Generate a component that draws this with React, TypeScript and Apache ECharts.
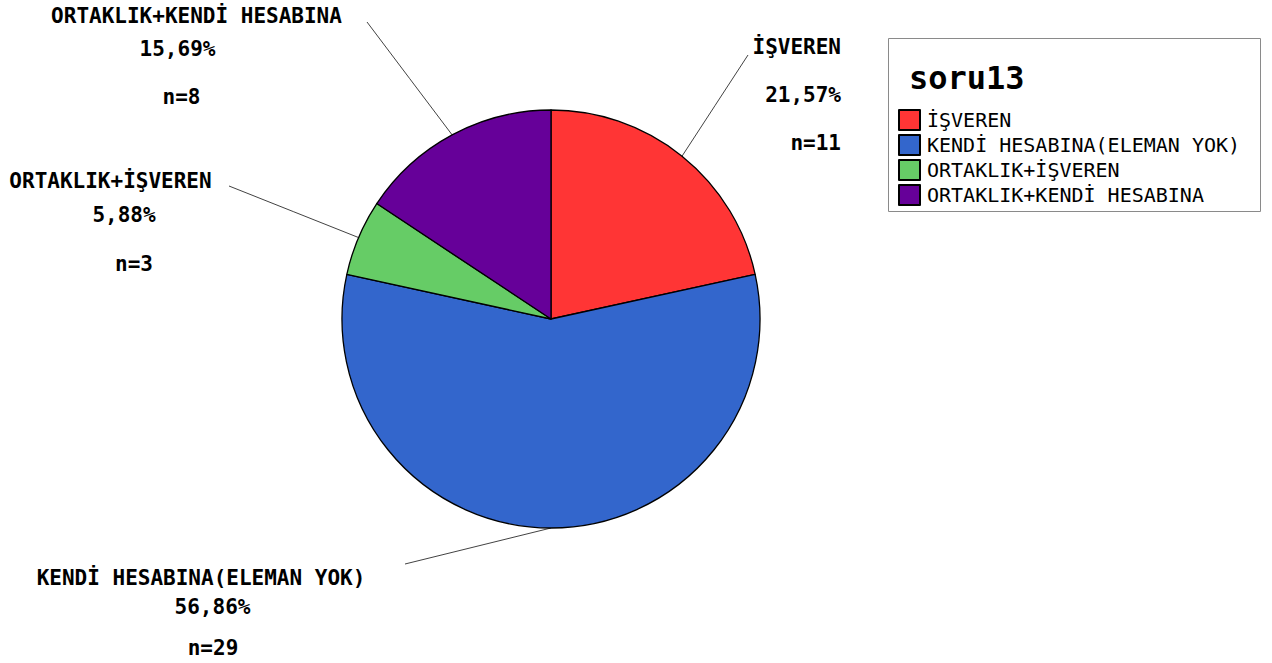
import React, { useEffect, useRef } from "react";
import * as echarts from "echarts";

const categories = ["İŞVEREN", "KENDİ HESABINA(ELEMAN YOK)", "ORTAKLIK+İŞVEREN", "ORTAKLIK+KENDİ HESABINA"];
const counts = [11, 29, 3, 8];
const colors = ["#FF3535", "#3366CC", "#66CC66", "#660099"];
const legendTitle = "soru13";

// label placement (layout only)
const labelBlocks = [
  { x: 841, y: 23, align: "right", lines: [48, 48, 48], offsets: [0, 0, 0], end: [748, 55] },
  { x: 201, y: 563, align: "center", lines: [30, 28, 54], offsets: [0, 11.5, 12], end: [405, 564] },
  { x: 110.5, y: 164, align: "center", lines: [34, 34, 64], offsets: [0, 13.5, 23.5], end: [229, 186] },
  { x: 196.5, y: 0, align: "center", lines: [32, 34, 62], offsets: [0, -19, -15], end: [367, 22] },
];

const FONT = "'DejaVu Sans Mono', monospace";

function pad(off: number) {
  if (off > 0) return [0, 0, 0, off * 2];
  if (off < 0) return [0, -off * 2, 0, 0];
  return [0, 0, 0, 0];
}

export default function App() {
  const ref = useRef<HTMLDivElement>(null);
  useEffect(() => {
    if (!ref.current) return;
    const chart = echarts.init(ref.current, null, { renderer: "svg" });
    const total = counts.reduce((a, b) => a + b, 0);
    const data = categories.map((name, i) => {
      const b = labelBlocks[i];
      const pct = ((counts[i] / total) * 100).toFixed(2).replace(".", ",") + "%";
      const mk = (k: number) => ({
        fontFamily: FONT,
        fontWeight: "bold",
        fontSize: 21,
        color: "#000",
        lineHeight: b.lines[k],
        align: b.align,
        padding: pad(b.offsets[k]),
      });
      return {
        name,
        value: counts[i],
        itemStyle: { color: colors[i] },
        label: {
          formatter: `{a|${name}}\n{b|${pct}}\n{c|n=${counts[i]}}`,
          rich: { a: mk(0), b: mk(1), c: mk(2) },
        },
      };
    });
    chart.setOption({
      animation: false,
      backgroundColor: "#fff",
      title: {
        text: legendTitle,
        left: 904,
        top: 57,
        textStyle: { fontFamily: FONT, fontWeight: "bold", fontSize: 32, color: "#000" },
      },
      graphic: [
        {
          type: "rect",
          shape: { x: 888.5, y: 38.5, width: 372, height: 173 },
          style: { fill: "none", stroke: "#8a8a8a", lineWidth: 1 },
          z: 0,
        },
      ],
      legend: {
        orient: "vertical",
        left: 898,
        top: 109,
        itemWidth: 21,
        itemHeight: 20,
        itemGap: 3,
        icon: "rect",
        selectedMode: false,
        padding: 0,
        textStyle: { fontFamily: FONT, fontSize: 20, lineHeight: 20, color: "#000", padding: [0, 0, 0, 2] },
        data: categories,
      },
      series: [
        {
          type: "pie",
          center: [551, 319],
          radius: 209,
          startAngle: 90,
          clockwise: true,
          avoidLabelOverlap: false,
          itemStyle: { borderColor: "#000", borderWidth: 1.3 },
          label: { show: true, position: "outside" },
          labelLine: { show: true, lineStyle: { color: "#111", width: 0.8 } },
          emphasis: { disabled: true },
          labelLayout: (params: any) => {
            const b = labelBlocks[params.dataIndex];
            const s = params.labelLinePoints ? params.labelLinePoints[0] : [551, 319];
            const e = b.end;
            return {
              x: b.x,
              y: b.y,
              align: b.align,
              verticalAlign: "top",
              labelLinePoints: [s, [(s[0] + e[0]) / 2, (s[1] + e[1]) / 2], e],
            };
          },
          data,
        },
      ],
    });
    return () => chart.dispose();
  }, []);
  return <div ref={ref} style={{ position: "fixed", left: 0, top: 0, width: 1272, height: 663 }} />;
}
